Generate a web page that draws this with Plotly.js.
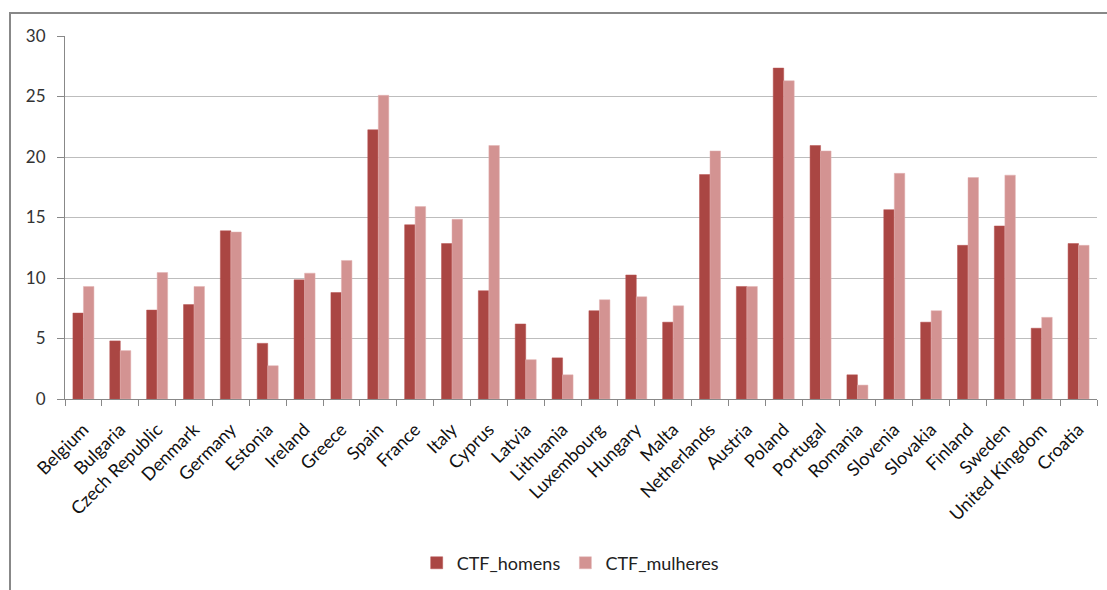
<!DOCTYPE html>
<html>
<head>
<meta charset="utf-8">
<script src="https://cdn.plot.ly/plotly-3.0.1.min.js"></script>
<style>html,body{margin:0;padding:0;background:#fff;}#chart{width:1107px;height:590px;}</style>
</head>
<body>
<div id="chart"></div>
<script>
var countries = ["Belgium","Bulgaria","Czech Republic","Denmark","Germany","Estonia","Ireland","Greece","Spain","France","Italy","Cyprus","Latvia","Lithuania","Luxembourg","Hungary","Malta","Netherlands","Austria","Poland","Portugal","Romania","Slovenia","Slovakia","Finland","Sweden","United Kingdom","Croatia"];
var ctfHomens = [7.1,4.8,7.35,7.8,13.9,4.6,9.85,8.8,22.25,14.4,12.85,8.95,6.2,3.4,7.3,10.25,6.35,18.55,9.3,27.35,20.95,2.0,15.65,6.35,12.7,14.3,5.85,12.85];
var ctfMulheres = [9.3,4.0,10.45,9.3,13.8,2.75,10.4,11.45,25.1,15.9,14.85,20.95,3.25,2.0,8.2,8.45,7.7,20.5,9.3,26.3,20.5,1.15,18.65,7.3,18.3,18.5,6.75,12.7];
var yTicks = [0,5,10,15,20,25,30];

var font = "Lato, 'Open Sans', sans-serif";
var traces = [
  {type:"bar", name:"CTF_homens", x:countries, y:ctfHomens, marker:{color:"#AA4643", line:{color:"#B85552", width:0.5}}},
  {type:"bar", name:"CTF_mulheres", x:countries, y:ctfMulheres, marker:{color:"#D39392", line:{color:"#E3B3B2", width:0.5}}}
];
var layout = {
  width:1107, height:590,
  margin:{l:65, r:10, t:36, b:190},
  paper_bgcolor:"#fff", plot_bgcolor:"#fff",
  barmode:"group", bargap:0.43, bargroupgap:0,
  font:{family:font, size:15, color:"#222"},
  showlegend:true,
  legend:{orientation:"h", x:0.49, y:-0.448, xanchor:"center", yanchor:"middle", font:{size:18, color:"#222"}, traceorder:"normal", itemwidth:30},
  xaxis:{type:"category", tickangle:-45, ticks:"outside", tickson:"boundaries", ticklen:6, tickcolor:"#888",
         showline:true, linecolor:"#888", linewidth:1, showgrid:false, tickfont:{size:18, color:"#111"}, ticklabelstandoff:12, automargin:false},
  yaxis:{range:[0,30], tickvals:yTicks, ticks:"outside", ticklen:7, tickcolor:"#888", showline:true, linecolor:"#888",
         gridcolor:"#BDBDBD", gridwidth:1, zeroline:false, tickfont:{size:17, color:"#333"}, ticklabelstandoff:8, automargin:false},
  shapes:[{type:"rect", xref:"paper", yref:"paper", x0:(10-65)/1032, x1:(1115-65)/1032, y0:(400-600)/364, y1:(400-13)/364,
           line:{color:"#888", width:2}, fillcolor:"rgba(0,0,0,0)", layer:"below"}]
};
Plotly.newPlot("chart", traces, layout, {displayModeBar:false, staticPlot:true});
</script>
</body>
</html>
